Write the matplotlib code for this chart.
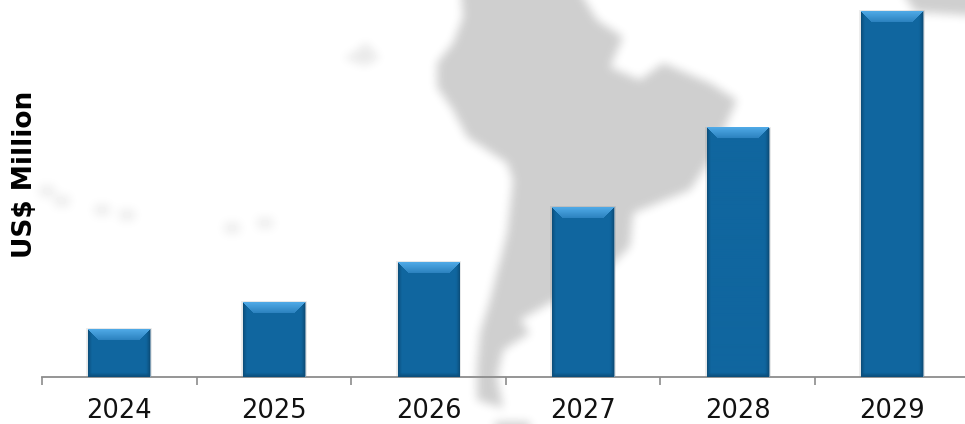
import numpy as np
import matplotlib
matplotlib.use('Agg')
import matplotlib.pyplot as plt
from matplotlib.path import Path
from matplotlib.colors import to_rgb

years = ['2024', '2025', '2026', '2027', '2028', '2029']
values = [48, 75, 115, 170, 249, 366]

W, H = 965, 424

# background map outlines, in picture pixels
south_america = [(460, -20), (463, 17), (453, 43), (437, 63), (437, 87), (453, 110), (467, 137),
                 (507, 163), (513, 180), (507, 233), (490, 300), (480, 333), (477, 367),
                 (477, 400), (503, 408), (497, 377), (503, 350), (530, 333), (520, 320),
                 (550, 303), (597, 280), (630, 247), (633, 213), (690, 190), (710, 160),
                 (737, 100), (710, 83), (663, 63), (640, 80), (610, 67), (623, 37), (597, 20),
                 (573, -20)]
africa = [(895, -20), (915, 12), (965, 15), (985, 15), (985, -20)]
cuba = [(343, 58), (358, 50), (366, 42), (380, 58), (365, 66)]
tip = [(495, 422), (530, 422), (530, 440), (495, 440)]
islands = [(47, 191), (62, 201), (102, 210), (127, 215), (232, 228), (265, 223)]


def blur(a, n, passes=3):
    # repeated box filter
    kernel = np.ones(n) / n
    for i in range(passes):
        a = np.apply_along_axis(lambda r: np.convolve(r, kernel, mode='same'), 0, a)
        a = np.apply_along_axis(lambda r: np.convolve(r, kernel, mode='same'), 1, a)
    return a


def map_image():
    xx, yy = np.meshgrid(np.arange(W + 60) - 29.5, np.arange(H + 60) - 29.5)
    pts = np.column_stack([xx.ravel(), yy.ravel()])
    mask = np.zeros((H + 60) * (W + 60))
    for poly, level in [(south_america, 1), (africa, 1), (cuba, 0.45), (tip, 1)]:
        mask[Path(poly).contains_points(pts)] = level
    mask = mask.reshape(H + 60, W + 60)
    for ix, iy in islands:
        mask[iy + 30 - 6:iy + 30 + 6, ix + 30 - 8:ix + 30 + 8] = 0.35
    mask = blur(mask, 9)[30:-30, 30:-30]
    grey = 1 - mask * (1 - 0.81)
    return grey


def bevel_image(w, h):
    # RGBA face of one bar: light top bevel, dark sides and bottom
    rgba = np.zeros((h, w, 4))
    rgba[..., :3] = to_rgb('#10669f')
    dark = np.array(to_rgb('#0c4f7c'))
    rgba[..., 3] = 1
    yy, xx = np.mgrid[0:h, 0:w]
    side = np.minimum(xx, w - 1 - xx)
    t = np.clip(1 - side / 4.0, 0, 1)[..., None] ** 1.5
    rgba[..., :3] = rgba[..., :3] * (1 - t) + dark * t
    bottom = np.clip(1 - (h - 1 - yy) / 4.0, 0, 1)[..., None]
    rgba[..., :3] = rgba[..., :3] * (1 - bottom) + dark * bottom
    bev = 11
    top = (yy < bev) & (yy <= xx) & (yy <= w - 1 - xx)
    light = np.array(to_rgb('#4fa9e6'))
    low = np.array(to_rgb('#2a80bd'))
    f = (yy / bev)[..., None]
    rgba[top, :3] = (light * (1 - f) + low * f)[top]
    return rgba


fig = plt.figure(figsize=(W / 100, H / 100), dpi=100)

bg = fig.add_axes([0, 0, 1, 1], zorder=0)
bg.imshow(map_image(), cmap='gray', vmin=0, vmax=1, extent=(0, W, H, 0), aspect='auto',
          interpolation='bilinear')
bg.axis('off')

ax = fig.add_axes([42 / W, 1 - 377 / H, (W - 42) / W, 377 / H], zorder=1)
ax.patch.set_alpha(0)

x = np.arange(len(years))
bars = ax.bar(x, values, width=0.4, color='#10669f', edgecolor='#7f9db3', linewidth=0.8, zorder=3)

# bevel drawn over each bar
for b in bars:
    bx, by = b.get_x(), b.get_y()
    bw, bh = b.get_width(), b.get_height()
    ax.imshow(bevel_image(62, int(bh)), extent=(bx, bx + bw, by, by + bh), aspect='auto',
              interpolation='bilinear', zorder=4)
    ax.bar(bx + bw / 2, bh + 1, width=bw + 0.025, color='k', alpha=0.07, linewidth=0, zorder=2)
ax.set_xlim(-0.5, 5.47)
ax.set_ylim(0, 377)

for s in ['top', 'right', 'left']:
    ax.spines[s].set_visible(False)
ax.spines['bottom'].set_color('#8c8c8c')
ax.spines['bottom'].set_linewidth(1.3)
ax.set_yticks([])
ax.set_xticks(x - 0.5)
ax.set_xticklabels([])
ax.tick_params(axis='x', length=6, width=1.2, color='#8c8c8c')

for xi, year in zip(x, years):
    ax.annotate(year, (xi, 0), xytext=(0, -41), textcoords='offset pixels',
                ha='center', va='baseline', fontsize=18.5, color='#111111', family='DejaVu Sans')

fig.text(25.5 / W, 1 - 174.5 / H, 'US$ Million', rotation=90, ha='center', va='center',
         fontsize=19, fontweight='bold', color='black', family='DejaVu Sans')

fig.savefig('out.png', dpi=100)
